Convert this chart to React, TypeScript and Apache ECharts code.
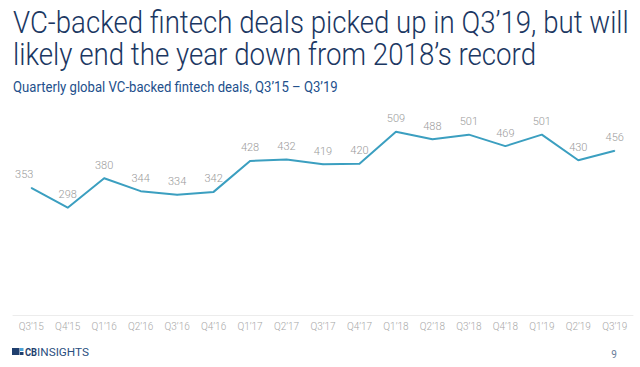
import React, { useEffect, useRef } from "react";
import * as echarts from "echarts";

const categories = [
  "Q3’15", "Q4’15", "Q1’16", "Q2’16", "Q3’16", "Q4’16", "Q1’17", "Q2’17", "Q3’17",
  "Q4’17", "Q1’18", "Q2’18", "Q3’18", "Q4’18", "Q1’19", "Q2’19", "Q3’19",
];
const deals = [353, 298, 380, 344, 334, 342, 428, 432, 419, 420, 509, 488, 501, 469, 501, 430, 456];

const titleLine1 = "VC-backed fintech deals picked up in Q3’19, but will";
const titleLine2 = "likely end the year down from 2018’s record";
const subtitle = "Quarterly global VC-backed fintech deals, Q3’15 – Q3’19";

function measure(text: string, font: string): number {
  const c = document.createElement("canvas");
  const ctx = c.getContext("2d");
  if (!ctx) return 0;
  ctx.font = font;
  return ctx.measureText(text).width;
}
function fitScale(text: string, font: string, target: number): number {
  const w = measure(text, font);
  return w > 0 ? target / w : 1;
}

export default function App() {
  const ref = useRef<HTMLDivElement>(null);
  useEffect(() => {
    if (!ref.current) return;
    const chart = echarts.init(ref.current, null, { renderer: "svg" });
    const tFont = "300 31px Roboto";
    const sFont = "400 14px Roboto";
    const s1 = fitScale(titleLine1, tFont, 616);
    const s2 = fitScale(titleLine2, tFont, 523);
    const s3 = fitScale(subtitle, sFont, 325);
    const cbFont = "700 11px Roboto";
    const lFont = "400 11px Roboto";
    const cbW = measure("CB", cbFont) * 0.85;
    const sl = fitScale("INSIGHTS", lFont, 89 - (25 + cbW));
    const seriesData = deals.map((v, i) =>
      i === 0 ? { value: v, label: { offset: [-7, 0] } } : v
    );
    chart.setOption({
      animation: false,
      backgroundColor: "#ffffff",
      grid: { left: 13, right: 7, top: 99, bottom: 52, containLabel: false },
      xAxis: {
        type: "category",
        data: categories,
        boundaryGap: true,
        axisLine: { show: true, lineStyle: { color: "#ececec", width: 1 } },
        axisTick: { show: false },
        axisLabel: {
          color: "#a8a8a8",
          fontSize: 10,
          fontFamily: "Roboto",
          fontWeight: 300,
          margin: 6,
          interval: 0,
        },
      },
      yAxis: {
        type: "value",
        min: 0,
        max: 600,
        show: false,
        splitLine: { show: false },
      },
      series: [
        {
          type: "line",
          data: seriesData,
          symbol: "circle",
          symbolSize: 1,
          showSymbol: true,
          showAllSymbol: true,
          itemStyle: { color: "#3b9fc0" },
          lineStyle: { color: "#3b9fc0", width: 2 },
          label: {
            show: true,
            position: "top",
            distance: 7,
            color: "#9b9b9b",
            fontSize: 11,
            fontFamily: "Roboto",
            fontWeight: 300,
          },
        },
      ],
      graphic: [
        {
          type: "text",
          x: 13,
          y: 22,
          scaleX: s1,
          style: {
            text: titleLine1,
            font: tFont,
            fill: "#1b3762",
            verticalAlign: "middle",
            align: "left",
          },
        },
        {
          type: "text",
          x: 13,
          y: 54,
          scaleX: s2,
          style: {
            text: titleLine2,
            font: tFont,
            fill: "#1b3762",
            verticalAlign: "middle",
            align: "left",
          },
        },
        {
          type: "text",
          x: 13,
          y: 87,
          scaleX: s3,
          style: {
            text: subtitle,
            font: sFont,
            fill: "#23508c",
            verticalAlign: "middle",
            align: "left",
          },
        },
        { type: "rect", shape: { x: 12, y: 348, width: 7.5, height: 7 }, style: { fill: "#1f3f6e" } },
        { type: "rect", shape: { x: 20, y: 348, width: 3.5, height: 3 }, style: { fill: "#4aa3d8" } },
        { type: "rect", shape: { x: 20, y: 352, width: 3.5, height: 3 }, style: { fill: "#1f3f6e" } },
        {
          type: "text",
          x: 25,
          y: 352,
          scaleX: 0.85,
          style: {
            text: "CB",
            font: cbFont,
            fill: "#1f3f6e",
            verticalAlign: "middle",
            align: "left",
          },
        },
        {
          type: "text",
          x: 25 + cbW,
          y: 352,
          scaleX: sl,
          style: {
            text: "INSIGHTS",
            font: lFont,
            fill: "#2b4f80",
            verticalAlign: "middle",
            align: "left",
          },
        },
        {
          type: "text",
          x: 614,
          y: 354,
          style: {
            text: "9",
            font: "400 10px Roboto",
            fill: "#6a7d99",
            verticalAlign: "middle",
            align: "center",
          },
        },
      ],
    });
    return () => chart.dispose();
  }, []);
  return <div ref={ref} style={{ width: 640, height: 367, position: "absolute", left: 0, top: 0 }} />;
}
